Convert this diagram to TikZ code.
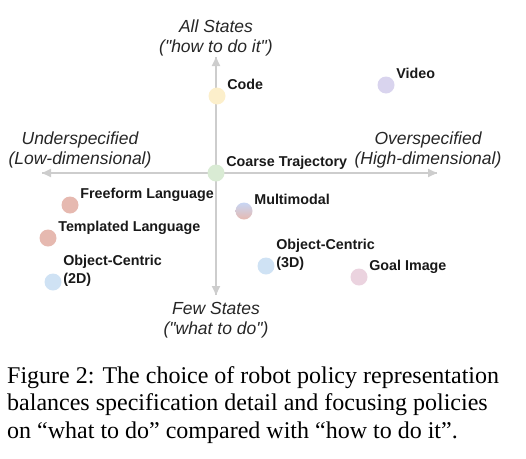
\documentclass[tikz,border=0pt]{standalone}
\usepackage{fontspec}
\setmainfont{Liberation Serif}
\setsansfont{Liberation Sans}[Ligatures=TeXOff]
\usetikzlibrary{arrows.meta,positioning}
\definecolor{axisgray}{HTML}{CDCDCD}
\definecolor{codeyellow}{HTML}{FCEFCB}
\definecolor{videopurple}{HTML}{D9D4EE}
\definecolor{coarsegreen}{HTML}{D9EBD4}
\definecolor{langred}{HTML}{E6B9B0}
\definecolor{objblue}{HTML}{CFE2F4}
\definecolor{goalpink}{HTML}{EBD3DF}
\definecolor{mmblue}{HTML}{C7D6F4}
\tikzset{
  axis/.style={draw=axisgray, line width=2pt, -{Triangle[length=9pt,width=8pt]}},
  dot/.style={circle, minimum size=17pt, inner sep=0pt},
  lbl/.style={font=\sffamily\bfseries\fontsize{14.3}{18}\selectfont, text=black!90, inner sep=0pt, align=left},
  axislbl/.style={font=\sffamily\itshape\fontsize{17.5}{20}\selectfont, text=black!85, inner sep=0pt, align=center},
  caption/.style={font=\fontsize{24}{27.5}\selectfont, inner sep=0pt, align=left}
}
\begin{document}
\begin{tikzpicture}[x=1pt, y=-1pt]
\useasboundingbox (0,0) rectangle (526,458);
% axes
\coordinate (top) at (216,57);
\coordinate (bottom) at (216,295);
\coordinate (left) at (42,173);
\coordinate (right) at (437,173);
\draw[axis] (bottom) -- (top);
\draw[axis] (top) -- (bottom);
\draw[axis] (right) -- (left);
\draw[axis] (left) -- (right);
% axis labels
\node[axislbl, above=0.5pt of top] (allstates) {All States\\("how to do it")};
\node[axislbl, below=7pt of bottom] (fewstates) {Few States\\("what to do")};
\node[axislbl] (under) at (80,150) {Underspecified\\(Low-dimensional)};
\node[axislbl] (over) at (428,150) {Overspecified\\(High-dimensional)};
% representations
\node[dot, fill=codeyellow] (code) at (217,96) {};
\node[dot, fill=videopurple] (video) at (386,85) {};
\node[dot, fill=coarsegreen] (coarse) at (216,173) {};
\node[dot, fill=langred] (freeform) at (70,205) {};
\node[dot, top color=mmblue, bottom color=langred] (multimodal) at (244,211) {};
\node[dot, fill=langred] (templated) at (48,238) {};
\node[dot, fill=objblue] (obj3d) at (266,266) {};
\node[dot, fill=goalpink] (goal) at (359,277) {};
\node[dot, fill=objblue] (obj2d) at (53,282) {};
\node[lbl, right=4pt of code.north east, anchor=base west] (codelbl) {Code};
\node[lbl, right=4pt of video.north east, anchor=base west] (videolbl) {Video};
\node[lbl, right=4pt of coarse.north east, anchor=base west] (coarselbl) {Coarse Trajectory};
\node[lbl, right=4pt of freeform.north east, anchor=base west] (freeformlbl) {Freeform Language};
\node[lbl, right=4pt of multimodal.north east, anchor=base west] (multimodallbl) {Multimodal};
\node[lbl, right=4pt of templated.north east, anchor=base west] (templatedlbl) {Templated Language};
\node[lbl, right=4pt of obj3d.north east, anchor=base west, yshift=-8pt] (obj3dlbl) {Object-Centric\\(3D)};
\node[lbl, right=4pt of goal.north east, anchor=base west] (goallbl) {Goal Image};
\node[lbl, right=4pt of obj2d.north east, anchor=base west, yshift=-8pt] (obj2dlbl) {Object-Centric\\(2D)};
% caption
\node[caption, anchor=base west] (cap) at (7,438) {Figure 2: The choice of robot policy representation\\balances specification detail and focusing policies\\on “what to do” compared with “how to do it”.};
\end{tikzpicture}
\end{document}
